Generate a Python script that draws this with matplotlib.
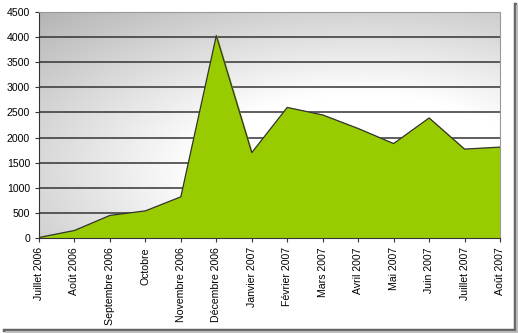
import matplotlib.pyplot as plt
import numpy as np
from matplotlib.lines import Line2D

plt.rcParams['font.family'] = ['Liberation Sans', 'DejaVu Sans']

mois = ['Juillet 2006', 'Août 2006', 'Septembre 2006', 'Octobre', 'Novembre 2006',
        'Décembre 2006', 'Janvier 2007', 'Février 2007', 'Mars 2007', 'Avril 2007',
        'Mai 2007', 'Juin 2007', 'Juillet 2007', 'Août 2007']
visites = [10, 150, 450, 540, 820, 4030, 1700, 2600, 2450, 2180, 1880, 2390, 1770, 1810]

fig = plt.figure(figsize=(5.18, 3.33), dpi=100)
ax = fig.add_axes([39/518, 1-238/333, 461/518, 226/333])

# shadow of the picture frame (right and bottom)
W, H = 518, 333
fig.lines.append(Line2D([515/W, 515/W], [1-4/H, 1-330/H], transform=fig.transFigure,
                        color='#666666', lw=2.5))
fig.lines.append(Line2D([4/W, 515/W], [1-330/H, 1-330/H], transform=fig.transFigure,
                        color='#666666', lw=2.5))
fig.lines.append(Line2D([517/W, 517/W], [1-6/H, 1-332/H], transform=fig.transFigure,
                        color='#bbbbbb', lw=1.5))
fig.lines.append(Line2D([6/W, 517/W], [1-332/H, 1-332/H], transform=fig.transFigure,
                        color='#bbbbbb', lw=1.5))

x = np.arange(len(mois))

# gradient background, grey in the upper left corner
gx, gy = np.meshgrid(np.linspace(0, 1, 200), np.linspace(1, 0, 120))
r = np.sqrt(((gx - 0.7) / 0.8)**2 + ((gy - 0.3) / 0.75)**2)
g = 1 - 0.3 * np.clip((r - 0.45) / 0.85, 0, 1)
ax.imshow(np.dstack([g, g, g]), extent=[0, len(mois)-1, 0, 4500], aspect='auto',
          zorder=0, interpolation='bilinear')

for yv in range(500, 4500, 500):
    ax.axhline(yv, color='#333333', lw=1.1, zorder=1)

ax.fill_between(x, visites, 0, color='#99cc00', zorder=2)
ax.plot(x, visites, color='#333333', lw=0.9, zorder=3)

ax.set_xlim(0, len(mois)-1)
ax.set_ylim(0, 4500)
ax.set_yticks(range(0, 4501, 500))
ax.set_xticks(x)
ax.set_xticklabels(mois, rotation=90, fontsize=7.6)
ax.tick_params(axis='y', labelsize=7.6, length=3, color='#333333')
ax.tick_params(axis='x', length=3, color='#333333')
for s in ['top', 'right']:
    ax.spines[s].set_color('#999999')
for s in ['left', 'bottom']:
    ax.spines[s].set_color('#333333')

fig.savefig('out.png', dpi=100)
